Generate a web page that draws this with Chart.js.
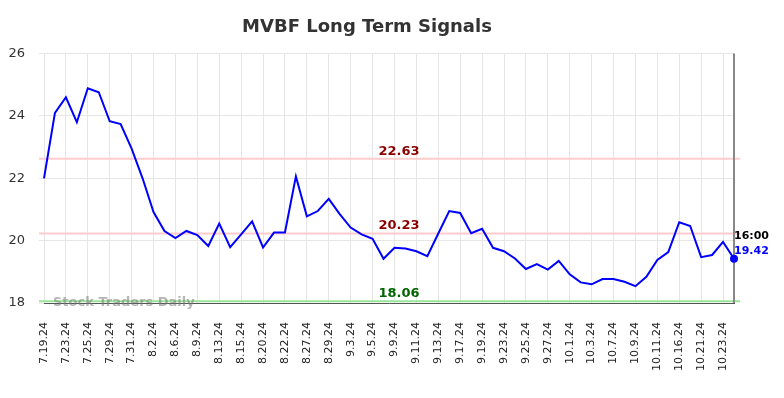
<!DOCTYPE html>
<html>
<head>
<meta charset="utf-8">
<script src="https://cdn.jsdelivr.net/npm/chart.js@4.4.1/dist/chart.umd.min.js"></script>
<style>
  html, body { margin: 0; padding: 0; background: #fff; }
  #wrap { width: 784px; height: 398px; }
</style>
</head>
<body>
<div id="wrap"><canvas id="chartSignals" width="784" height="398"></canvas></div>
<script>
'use strict'

var dates = ['7.19.24', '7.22.24', '7.23.24', '7.24.24', '7.25.24', '7.26.24', '7.29.24', '7.30.24',
  '7.31.24', '8.1.24', '8.2.24', '8.5.24', '8.6.24', '8.8.24', '8.9.24', '8.12.24',
  '8.13.24', '8.14.24', '8.15.24', '8.19.24', '8.20.24', '8.21.24', '8.22.24', '8.26.24',
  '8.27.24', '8.28.24', '8.29.24', '8.30.24', '9.3.24', '9.4.24', '9.5.24', '9.6.24',
  '9.9.24', '9.10.24', '9.11.24', '9.12.24', '9.13.24', '9.16.24', '9.17.24', '9.18.24',
  '9.19.24', '9.20.24', '9.23.24', '9.24.24', '9.25.24', '9.26.24', '9.27.24', '9.30.24',
  '10.1.24', '10.2.24', '10.3.24', '10.4.24', '10.7.24', '10.8.24', '10.9.24', '10.10.24',
  '10.11.24', '10.15.24', '10.16.24', '10.18.24', '10.21.24', '10.22.24', '10.23.24', '10.24.24'];

var prices = [22.0, 24.1, 24.6, 23.8, 24.89, 24.76, 23.83, 23.74,
  22.95, 22.0, 20.92, 20.31, 20.08, 20.31, 20.18, 19.83,
  20.55, 19.79, 20.2, 20.62, 19.78, 20.26, 20.26, 22.06,
  20.78, 20.95, 21.34, 20.85, 20.42, 20.2, 20.06, 19.42,
  19.77, 19.75, 19.66, 19.5, 20.23, 20.95, 20.89, 20.24,
  20.38, 19.77, 19.66, 19.43, 19.09, 19.25, 19.07, 19.35,
  18.92, 18.66, 18.6, 18.77, 18.77, 18.68, 18.54, 18.84,
  19.38, 19.63, 20.59, 20.47, 19.47, 19.54, 19.96, 19.42];

var yTicks = [18, 20, 22, 24, 26];
var upperSignal = 22.63;
var midSignal = 20.23;
var lowerSignal = 18.06;
var lastTime = '16:00';

var FONT = '"DejaVu Sans", sans-serif';

// horizontal signal lines, watermark, last price marker
var signalPlugin = {
  id: 'signals',
  beforeDatasetsDraw: function (chart) {
    var c = chart.ctx, a = chart.chartArea;
    var y = chart.scales.y, x = chart.scales.x;
    function hline(v, color) {
      var py = y.getPixelForValue(v);
      c.save();
      c.strokeStyle = color;
      c.lineWidth = 2;
      c.beginPath();
      c.moveTo(a.left - 5, py);
      c.lineTo(a.right + 6, py);
      c.stroke();
      c.restore();
    }
    hline(upperSignal, '#ffcccc');
    hline(midSignal, '#ffcccc');
    hline(lowerSignal, '#99e699');

    c.save();
    c.font = 'bold 13px ' + FONT;
    c.fillStyle = 'rgba(120,120,120,0.55)';
    c.textAlign = 'left';
    c.textBaseline = 'middle';
    c.fillText('Stock Traders Daily', a.left + 9, y.getPixelForValue(lowerSignal) + 1);
    c.restore();

    // vertical line at last point
    var lx = x.getPixelForValue(prices.length - 1);
    c.save();
    c.strokeStyle = '#888888';
    c.lineWidth = 2;
    c.beginPath();
    c.moveTo(lx, a.top);
    c.lineTo(lx, a.bottom);
    c.stroke();
    c.restore();
  },
  afterDatasetsDraw: function (chart) {
    var c = chart.ctx, a = chart.chartArea;
    var y = chart.scales.y, x = chart.scales.x;
    var mx = (a.left + a.right) / 2 + 10;
    c.save();
    c.font = 'bold 13px ' + FONT;
    c.textAlign = 'center';
    c.textBaseline = 'bottom';
    c.fillStyle = '#8b0000';
    c.fillText(upperSignal.toFixed(2), mx, y.getPixelForValue(upperSignal) - 1);
    c.fillText(midSignal.toFixed(2), mx, y.getPixelForValue(midSignal) - 1);
    c.fillStyle = '#006400';
    c.fillText(lowerSignal.toFixed(2), mx, y.getPixelForValue(lowerSignal) - 1);

    var lx = x.getPixelForValue(prices.length - 1);
    var last = prices[prices.length - 1];
    var ly = y.getPixelForValue(last);
    c.font = 'bold 11px ' + FONT;
    c.textAlign = 'left';
    c.textBaseline = 'middle';
    c.fillStyle = '#000000';
    c.fillText(lastTime, lx, ly - 23);
    c.fillStyle = '#0000ff';
    c.fillText(last.toFixed(2), lx, ly - 8);
    c.restore();
  }
};

var ctx = document.getElementById('chartSignals');
var chart = new Chart(ctx, {
  type: 'line',
  data: {
    labels: dates,
    datasets: [{
      label: 'MVBF',
      data: prices,
      borderColor: '#0000ff',
      backgroundColor: '#0000ff',
      borderWidth: 2,
      fill: false,
      tension: 0,
      pointRadius: prices.map(function (v, i) { return i === prices.length - 1 ? 4 : 0; }),
      pointBackgroundColor: '#0000ff',
      pointBorderWidth: 0
    }]
  },
  options: {
    responsive: false,
    animation: false,
    layout: { padding: { left: 0, right: 50, top: 0, bottom: 0 } },
    plugins: {
      legend: { display: false },
      tooltip: { enabled: false },
      title: {
        display: true,
        text: 'MVBF Long Term Signals',
        color: '#333333',
        font: { family: FONT, size: 18, weight: 'bold' },
        padding: { top: 17, bottom: 15 }
      }
    },
    scales: {
      x: {
        type: 'category',
        offset: false,
        grid: {
          color: function (c) { return c.index % 2 === 0 ? '#e6e6e6' : 'rgba(0,0,0,0)'; },
          drawTicks: false
        },
        border: { display: true, color: '#555555', width: 1 },
        ticks: {
          autoSkip: false,
          maxRotation: 90,
          minRotation: 90,
          padding: 19,
          color: '#222222',
          font: { family: FONT, size: 11 },
          callback: function (v, i) { return i % 2 === 0 ? dates[i] : ''; }
        },
        afterFit: function (s) { s.height = 95; }
      },
      y: {
        min: 18,
        max: 26,
        afterBuildTicks: function (s) { s.ticks = yTicks.map(function (v) { return { value: v }; }); },
        grid: { color: '#e6e6e6', tickLength: 5 },
        border: { display: false },
        ticks: {
          padding: 14,
          color: '#333333',
          font: { family: FONT, size: 13 }
        },
        afterFit: function (s) { s.width = 44; }
      }
    }
  },
  plugins: [signalPlugin]
});
</script>
</body>
</html>
